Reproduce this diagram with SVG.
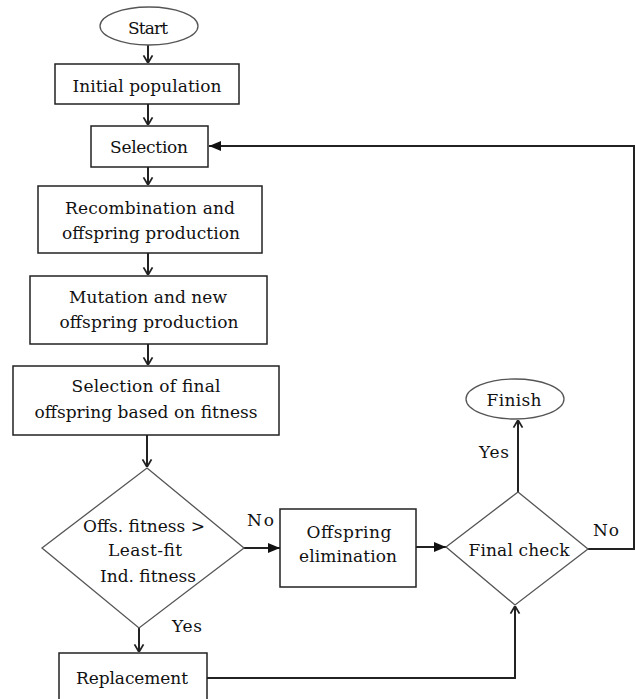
<svg xmlns="http://www.w3.org/2000/svg" width="635" height="699" viewBox="0 0 635 699">
<style>
.box{fill:#fff;stroke:#222;stroke-width:1.5}
.term{fill:#fff;stroke:#555;stroke-width:1.3}
.dia{fill:#fff;stroke:#555;stroke-width:1.3}
.c{fill:none;stroke:#222;stroke-width:2}
</style>
<defs>
<marker id="open" viewBox="0 0 10 12" refX="9.5" refY="6" markerWidth="9" markerHeight="12" markerUnits="userSpaceOnUse" orient="auto">
<path d="M1,1 L9.5,6 L1,11" fill="none" stroke="#222" stroke-width="2"/>
</marker>
<marker id="fill" viewBox="0 0 12 10" refX="12" refY="5" markerWidth="12" markerHeight="10" markerUnits="userSpaceOnUse" orient="auto">
<path d="M0,0 L12,5 L0,10 Z" fill="#111"/>
</marker>
</defs>
<rect width="635" height="699" fill="#fff"/>
<g id="connectors">
<line class="c" x1="148" y1="45" x2="148" y2="63" marker-end="url(#open)"/>
<line class="c" x1="148" y1="104" x2="148" y2="125" marker-end="url(#open)"/>
<line class="c" x1="148" y1="167" x2="148" y2="185" marker-end="url(#open)"/>
<line class="c" x1="148" y1="253" x2="148" y2="275" marker-end="url(#open)"/>
<line class="c" x1="148" y1="344" x2="148" y2="365" marker-end="url(#open)"/>
<line class="c" x1="147" y1="435" x2="147" y2="467" marker-end="url(#open)"/>
<line class="c" x1="139" y1="628" x2="139" y2="652" marker-end="url(#open)"/>
<line class="c" x1="244" y1="548" x2="280" y2="548" marker-end="url(#fill)"/>
<line class="c" x1="416" y1="547" x2="446" y2="547" marker-end="url(#fill)"/>
<polyline class="c" points="207,678 515,678 515,606" marker-end="url(#open)"/>
<line class="c" x1="518" y1="492" x2="518" y2="420" marker-end="url(#open)"/>
<polyline class="c" points="588,549 634,549 634,146 209,146" stroke-width="1.6" marker-end="url(#fill)"/>
</g>
<g font-family="DejaVu Serif, serif" font-size="17" fill="#111">
<g id="start" text-anchor="middle">
<ellipse class="term" cx="149" cy="26" rx="49" ry="19"/>
<text x="148" y="34" textLength="40">Start</text>
</g>
<g id="initial" text-anchor="middle">
<rect class="box" x="55" y="64" width="184" height="40"/>
<text x="147" y="92" textLength="149">Initial population</text>
</g>
<g id="selection" text-anchor="middle">
<rect class="box" x="91" y="126" width="117" height="41"/>
<text x="149" y="153" textLength="78">Selection</text>
</g>
<g id="recombination" text-anchor="middle">
<rect class="box" x="38" y="186" width="224" height="67"/>
<text x="150" y="214" textLength="170">Recombination and</text>
<text x="151" y="239" textLength="178">offspring production</text>
</g>
<g id="mutation" text-anchor="middle">
<rect class="box" x="30" y="276" width="237" height="68"/>
<text x="148" y="303" textLength="158">Mutation and new</text>
<text x="149" y="328" textLength="179">offspring production</text>
</g>
<g id="final-selection" text-anchor="middle">
<rect class="box" x="13" y="366" width="266" height="69"/>
<text x="146" y="392" textLength="149">Selection of final</text>
<text x="146" y="418" textLength="223">offspring based on fitness</text>
</g>
<g id="fitness-check">
<polygon class="dia" points="147,468 244,548 139,628 42,548"/>
<text x="144" y="532" textLength="122" text-anchor="middle">Offs. fitness &gt;</text>
<text x="145" y="556" textLength="74" text-anchor="middle">Least-fit</text>
<text x="148" y="582" textLength="96" text-anchor="middle">Ind. fitness</text>
<text x="247" y="526" textLength="27">No</text>
<text x="172" y="632" textLength="30">Yes</text>
</g>
<g id="replacement" text-anchor="middle">
<rect class="box" x="59" y="653" width="148" height="60"/>
<text x="132" y="684" textLength="112">Replacement</text>
</g>
<g id="elimination" text-anchor="middle">
<rect class="box" x="280" y="509" width="136" height="78"/>
<text x="349" y="538" textLength="85">Offspring</text>
<text x="348" y="562" textLength="98">elimination</text>
</g>
<g id="final-check">
<polygon class="dia" points="518,492 588,549 515,605 446,547"/>
<text x="519" y="556" textLength="101" text-anchor="middle">Final check</text>
<text x="593" y="536" textLength="26">No</text>
<text x="479" y="458" textLength="30">Yes</text>
</g>
<g id="finish" text-anchor="middle">
<ellipse class="term" cx="515" cy="399" rx="49" ry="20"/>
<text x="514" y="406" textLength="55">Finish</text>
</g>
</g>
</svg>
